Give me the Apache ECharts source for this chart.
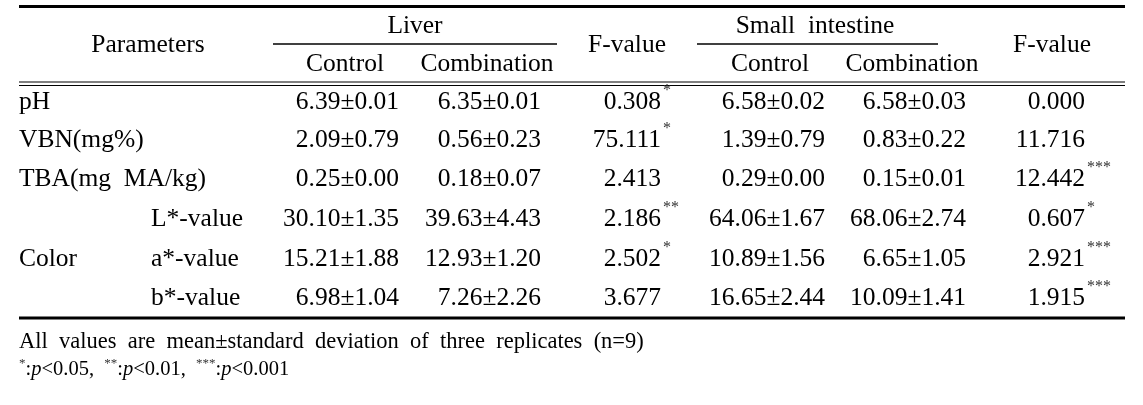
<!DOCTYPE html>
<html><head><meta charset="utf-8">
<script src="https://cdn.jsdelivr.net/npm/echarts@6/dist/echarts.min.js"></script>
<style>html,body{margin:0;padding:0;background:#fff}#c{width:1143px;height:405px}</style>
</head><body><div id="c"></div>
<script>
// ---------- data ----------
const paramHeader = 'Parameters';
const groupHeaders = ['Liver', 'Small  intestine'];
const subHeaders = ['Control', 'Combination'];
const fHeader = 'F-value';
const rowLabels = ['pH', 'VBN(mg%)', 'TBA(mg  MA/kg)', 'L*-value', 'a*-value', 'b*-value'];
const colorGroupLabel = 'Color';
const liverControl = ['6.39±0.01', '2.09±0.79', '0.25±0.00', '30.10±1.35', '15.21±1.88', '6.98±1.04'];
const liverCombination = ['6.35±0.01', '0.56±0.23', '0.18±0.07', '39.63±4.43', '12.93±1.20', '7.26±2.26'];
const liverF = ['0.308', '75.111', '2.413', '2.186', '2.502', '3.677'];
const liverSig = ['*', '*', '', '**', '*', ''];
const siControl = ['6.58±0.02', '1.39±0.79', '0.29±0.00', '64.06±1.67', '10.89±1.56', '16.65±2.44'];
const siCombination = ['6.58±0.03', '0.83±0.22', '0.15±0.01', '68.06±2.74', '6.65±1.05', '10.09±1.41'];
const siF = ['0.000', '11.716', '12.442', '0.607', '2.921', '1.915'];
const siSig = ['', '', '***', '*', '***', '***'];
const footnote1 = 'All  values  are  mean±standard  deviation  of  three  replicates  (n=9)';
const sigLevels = ['*', '**', '***'];
const sigThresholds = ['<0.05,', '<0.01,', '<0.001'];

// ---------- layout ----------
const W = 1143, H = 405;
const FONT = '"Liberation Serif","Times New Roman",serif';
const FS = 25.5;
const FOOT_FS = 22.5;
const FOOT2_FS = 20.5;
const INK = '#000';
const STAR = '#333';
const rowY = [102, 140, 179, 219, 259, 298];
const colRight = [399, 541, 661, 825, 966, 1085];
const leftX = 19, subLabelX = 151;
const headY1 = 26, headY2 = 45, headY3 = 64;
const groupCenters = [415, 815];
const subCenters = [[345, 487], [770, 912]];
const fCenters = [627, 1052];
const paramCenter = 148;
const foot1Y = 342, foot2Y = 370;

const cells = [];
function cell(x, y, text, align, extra) {
  cells.push(Object.assign({ x: x, y: y, text: text, align: align }, extra || {}));
}
cell(paramCenter, headY2, paramHeader, 'center');
groupHeaders.forEach((g, i) => {
  cell(groupCenters[i], headY1, g, 'center');
  subHeaders.forEach((s, j) => cell(subCenters[i][j], headY3, s, 'center'));
  cell(fCenters[i], headY2, fHeader, 'center');
});
rowLabels.forEach((r, i) => {
  cell(i < 3 ? leftX : subLabelX, rowY[i], r, 'left');
});
cell(leftX, rowY[4], colorGroupLabel, 'left');
const cols = [liverControl, liverCombination, liverF, siControl, siCombination, siF];
cols.forEach((col, c) => col.forEach((v, i) => cell(colRight[c], rowY[i], v, 'right')));
[[liverSig, 2], [siSig, 5]].forEach(([sig, c]) => sig.forEach((s, i) => {
  if (s) cell(colRight[c] + 2, rowY[i] - 11, s, 'left', { size: 16, color: STAR });
}));
cell(leftX, foot1Y, footnote1, 'left', { size: FOOT_FS });
let foot2 = '';
sigLevels.forEach((s, i) => {
  foot2 += '{s|' + s + '}{t|:}{i|p}{t|' + sigThresholds[i] + (i < 2 ? '  ' : '') + '}';
});
cell(leftX, foot2Y, foot2, 'left', { size: FOOT2_FS, rich: true });

const rules = [
  // x1, x2, y, width
  [19, 1125, 6.5, 3],
  [273, 557, 44, 1.5],
  [697, 938, 44, 1.5],
  [19, 1125, 82, 1.2],
  [19, 1125, 85.5, 1.2],
  [19, 1125, 318, 3]
];

const chart = echarts.init(document.getElementById('c'), null, { renderer: 'canvas' });
chart.setOption({
  backgroundColor: '#fff',
  animation: false,
  grid: { left: 0, right: 0, top: 0, bottom: 0 },
  xAxis: { type: 'value', min: 0, max: W, show: false },
  yAxis: { type: 'value', min: 0, max: H, inverse: true, show: false },
  series: [
    {
      type: 'custom',
      coordinateSystem: 'cartesian2d',
      data: rules.map(r => [r[0], r[2], r[1], r[3]]),
      renderItem: function (params, api) {
        const a = api.coord([api.value(0), api.value(1)]);
        const b = api.coord([api.value(2), api.value(1)]);
        return {
          type: 'line',
          shape: { x1: a[0], y1: a[1], x2: b[0], y2: b[1] },
          style: { stroke: INK, lineWidth: api.value(3) }
        };
      }
    },
    {
      type: 'custom',
      coordinateSystem: 'cartesian2d',
      data: cells.map(c => [c.x, c.y]),
      renderItem: function (params, api) {
        const c = cells[params.dataIndex];
        const p = api.coord([api.value(0), api.value(1)]);
        const size = c.size || FS;
        const style = {
          text: c.text,
          x: p[0], y: p[1],
          align: c.align,
          verticalAlign: 'middle',
          fontFamily: FONT,
          fontSize: size,
          fill: c.color || INK
        };
        if (c.rich) {
          style.rich = {
            t: { fontFamily: FONT, fontSize: size, fill: INK, lineHeight: 26 },
            i: { fontFamily: FONT, fontSize: size, fontStyle: 'italic', fill: INK, lineHeight: 26 },
            s: { fontFamily: FONT, fontSize: 13, fill: STAR, verticalAlign: 'top', lineHeight: 26 }
          };
        }
        return { type: 'text', style: style };
      }
    }
  ]
});
</script>
</body></html>
